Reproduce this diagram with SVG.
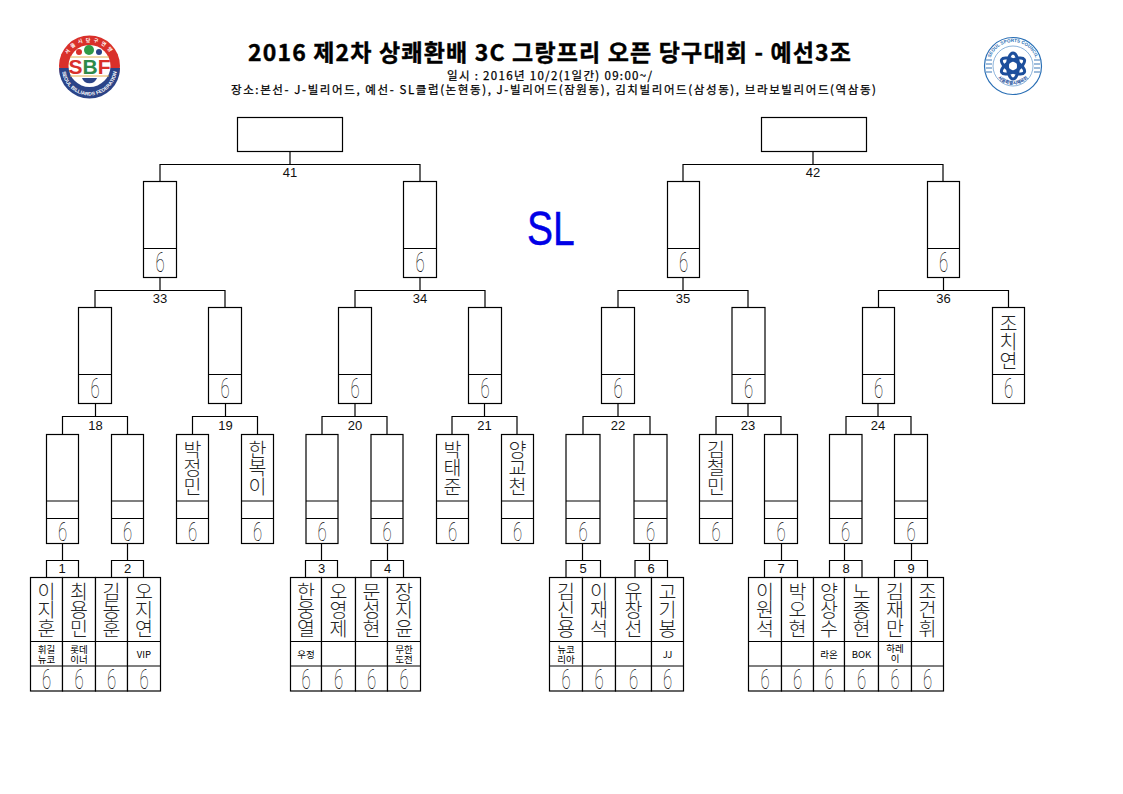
<svg xmlns="http://www.w3.org/2000/svg" width="1123" height="794" viewBox="0 0 1123 794">
<style>
.b{fill:#fff;stroke:#000;stroke-width:1.2}
.c{fill:none;stroke:#000;stroke-width:1.2}
.n{font-family:"Noto Sans CJK KR","Liberation Sans",sans-serif;font-size:19.500px;fill:#222;font-weight:300;writing-mode:vertical-rl;text-orientation:upright;letter-spacing:-1px}
.a{font-family:"Noto Sans CJK KR","Liberation Sans",sans-serif;font-size:9.500px;text-anchor:middle;fill:#000}
.s{font-family:Roboto,"Liberation Sans",sans-serif;font-size:14px;font-weight:100;text-anchor:middle;fill:#000}
.m{font-family:"Liberation Sans",sans-serif;font-size:13px;text-anchor:middle;fill:#111}
.t{font-family:"Noto Sans CJK KR","Liberation Sans",sans-serif;fill:#000}
.t1{font-size:23px;font-weight:700;stroke:#000;stroke-width:.4}
.t2{font-size:11.500px;font-weight:400;stroke:#000;stroke-width:.25}
.lw{font-family:"Liberation Sans","Noto Sans CJK KR",sans-serif;font-size:5px;font-weight:700;fill:#fff}
.lb{font-family:"Liberation Sans","Noto Sans CJK KR",sans-serif;font-size:4.600px;font-weight:700;fill:#2a6fb5}
</style>
<defs>
<path id="arcTopL" d="M65 66A24.500 24.500 0 0 1 114 66"/>
<path id="arcBotL" d="M62 68A27.500 27.500 0 0 0 117 68"/>
<path id="arcTopR" d="M989 66A24 24 0 0 1 1037 66"/>
<path id="arcBotR" d="M993 70A21 21 0 0 0 1033 70"/>
</defs>
<rect width="1123" height="794" fill="#fff"/>
<g id="title">
<text class="t t1" x="248" y="61" textLength="603" lengthAdjust="spacing">2016 제2차 상쾌환배 3C 그랑프리 오픈 당구대회 - 예선3조</text>
<text class="t t2" x="447" y="80" textLength="205">일시 : 2016년 10/2(1일간) 09:00~/</text>
<text class="t t2" x="231" y="94" textLength="645">장소:본선- J-빌리어드, 예선- SL클럽(논현동), J-빌리어드(잠원동), 김치빌리어드(삼성동), 브라보빌리어드(역삼동)</text>
</g>
<g id="logo-left">
<circle cx="89.500" cy="66" r="30.500" fill="#d9302a"/>
<path d="M59 68A30.500 30.500 0 0 0 120 68Z" fill="#2b4488"/>
<circle cx="89.500" cy="66" r="21" fill="#fff"/>
<path d="M70 57H109M70 76H109" stroke="#e0b050" stroke-width="1"/>
<circle cx="89" cy="50" r="5" fill="#2f9a46"/><circle cx="79" cy="52" r="3" fill="#d9302a"/><circle cx="99" cy="52" r="3" fill="#2b4488"/>
<path d="M82 78H97A8 8 0 0 1 82 78Z" fill="#2b4488"/>
<text x="89.500" y="74" font-family="Liberation Sans,sans-serif" font-weight="700" font-size="21" text-anchor="middle"><tspan fill="#d9302a">S</tspan><tspan fill="#2f8a4a">B</tspan><tspan fill="#d9302a">F</tspan></text>
<text class="lw"><textPath href="#arcTopL" startOffset="50%" text-anchor="middle" letter-spacing="3">서울시당구연맹</textPath></text>
<text class="lw" font-size="4.500"><textPath href="#arcBotL" startOffset="50%" text-anchor="middle">SEOUL BILLIARDS FEDERATION</textPath></text>
</g>
<g id="logo-right">
<circle cx="1013" cy="66" r="28.500" fill="#fff" stroke="#2a6fb5" stroke-width="1.200"/>
<circle cx="1013" cy="66" r="20" fill="#fff" stroke="#6f9fd0" stroke-width=".8"/>
<path d="M986 60H992M986 64H992M986 68H992M986 72H992M1034 60H1040M1034 64H1040M1034 68H1040M1034 72H1040" stroke="#7fa6cf" stroke-width="1.500"/>
<g fill="none" stroke="#1d4f9c" stroke-width="3"><ellipse cx="1013" cy="66" rx="5.500" ry="13"/><ellipse cx="1013" cy="66" rx="5.500" ry="13" transform="rotate(60 1013 66)"/><ellipse cx="1013" cy="66" rx="5.500" ry="13" transform="rotate(120 1013 66)"/></g>
<text class="lb"><textPath href="#arcTopR" startOffset="50%" text-anchor="middle">SEOUL SPORTS COUNCIL</textPath></text>
<text class="lb" style="fill:#1d4f9c"><textPath href="#arcBotR" startOffset="50%" text-anchor="middle">서울특별시체육회</textPath></text>
</g>
<text id="sl" transform="translate(527 245) scale(1 1.22)" font-family="Liberation Sans,sans-serif" font-size="39" fill="#0000e6" stroke="#0000e6" stroke-width=".4">SL</text>
<g id="connectors">
<path class="c" d="M290 151V164.500M160 181V164.500H420V181M813 151V164.500M683 181V164.500H943V181M160 277V290.500M95 307V290.500H225V307M420 277V290.500M355 307V290.500H485V307M683 277V290.500M618 307V290.500H748V307M943.500 277V290.500M878.500 307V290.500H1008.500V307M95.500 403V416.500M62.500 434V416.500H127.500V434M225.500 403V416.500M192.500 434V416.500H257.500V434M355 403V416.500M322 434V416.500H387V434M484.500 403V416.500M452 434V416.500H517V434M618 403V416.500M583 434V416.500H650V434M748 403V416.500M716 434V416.500H781V434M878 403V416.500M846 434V416.500H911V434"/>
<path class="c" d="M62.500 544V560.500M46.500 577V560.500H78.500V577M127.500 544V560.500M111.500 577V560.500H143.500V577M321.500 544V560.500M305.500 577V560.500H337.500V577M387.500 544V560.500M371 577V560.500H403.500V577M582.500 544V560.500M566 577V560.500H600.500V577M649.500 544V560.500M635 577V560.500H667.500V577M781.500 544V560.500M764.500 577V560.500H797.500V577M844.500 544V560.500M829.500 577V560.500H862V577M911.500 544V560.500M894.500 577V560.500H927.500V577"/>
</g>
<g id="match-labels">
<text class="m" x="290" y="177">41</text><text class="m" x="813" y="177">42</text>
<text class="m" x="160" y="303">33</text><text class="m" x="420" y="303">34</text><text class="m" x="683" y="303">35</text><text class="m" x="943.500" y="303">36</text>
<text class="m" x="95.500" y="430">18</text><text class="m" x="225.500" y="430">19</text><text class="m" x="355" y="430">20</text><text class="m" x="484.500" y="430">21</text><text class="m" x="618" y="430">22</text><text class="m" x="748" y="430">23</text><text class="m" x="878" y="430">24</text>
<text class="m" x="62" y="573">1</text><text class="m" x="127.500" y="573">2</text><text class="m" x="321.500" y="573">3</text><text class="m" x="387.500" y="573">4</text><text class="m" x="583" y="573">5</text><text class="m" x="651" y="573">6</text><text class="m" x="781" y="573">7</text><text class="m" x="846" y="573">8</text><text class="m" x="911" y="573">9</text>
</g>
<g id="final-left"><rect class="b" x="237.500" y="117.500" width="105" height="34"/></g>
<g id="final-right"><rect class="b" x="761.500" y="117.500" width="105" height="34"/></g>

<g id="sf1" transform="translate(143.500 181.500)"><rect class="b" width="33" height="96"/><path class="c" d="M0 67H33"/><text class="s" transform="translate(16.500 90.500) scale(1.2 2)">6</text></g>
<g id="sf2" transform="translate(403.500 181.500)"><rect class="b" width="33" height="96"/><path class="c" d="M0 67H33"/><text class="s" transform="translate(16.500 90.500) scale(1.2 2)">6</text></g>
<g id="sf3" transform="translate(667.500 181.500)"><rect class="b" width="32" height="96"/><path class="c" d="M0 67H32"/><text class="s" transform="translate(16 90.500) scale(1.2 2)">6</text></g>
<g id="sf4" transform="translate(927.500 181.500)"><rect class="b" width="32" height="96"/><path class="c" d="M0 67H32"/><text class="s" transform="translate(16 90.500) scale(1.2 2)">6</text></g>

<g id="q1" transform="translate(78.500 307.500)"><rect class="b" width="33" height="96"/><path class="c" d="M0 67H33"/><text class="s" transform="translate(16.500 90.500) scale(1.2 2)">6</text></g>
<g id="q2" transform="translate(208.500 307.500)"><rect class="b" width="33" height="96"/><path class="c" d="M0 67H33"/><text class="s" transform="translate(16.500 90.500) scale(1.2 2)">6</text></g>
<g id="q3" transform="translate(338.500 307.500)"><rect class="b" width="33" height="96"/><path class="c" d="M0 67H33"/><text class="s" transform="translate(16.500 90.500) scale(1.2 2)">6</text></g>
<g id="q4" transform="translate(468.500 307.500)"><rect class="b" width="33" height="96"/><path class="c" d="M0 67H33"/><text class="s" transform="translate(16.500 90.500) scale(1.2 2)">6</text></g>
<g id="q5" transform="translate(601.500 307.500)"><rect class="b" width="33" height="96"/><path class="c" d="M0 67H33"/><text class="s" transform="translate(16.500 90.500) scale(1.2 2)">6</text></g>
<g id="q6" transform="translate(732 307.500)"><rect class="b" width="33" height="96"/><path class="c" d="M0 67H33"/><text class="s" transform="translate(16.500 90.500) scale(1.2 2)">6</text></g>
<g id="q7" transform="translate(862.500 307.500)"><rect class="b" width="32" height="96"/><path class="c" d="M0 67H32"/><text class="s" transform="translate(16 90.500) scale(1.2 2)">6</text></g>
<g id="q8" transform="translate(992.500 307.500)"><rect class="b" width="32" height="96"/><path class="c" d="M0 67H32"/><text class="n" x="16" y="6">조치연</text><text class="s" transform="translate(16 90.500) scale(1.2 2)">6</text></g>

<g id="r1" transform="translate(46.500 434.500)"><rect class="b" width="32" height="109"/><path class="c" d="M0 66.500H32M0 84H32"/><text class="s" transform="translate(16 106.500) scale(1.2 1.9)">6</text></g>
<g id="r2" transform="translate(111.500 434.500)"><rect class="b" width="32" height="109"/><path class="c" d="M0 66.500H32M0 84H32"/><text class="s" transform="translate(16 106.500) scale(1.2 1.9)">6</text></g>
<g id="r3" transform="translate(176.500 434.500)"><rect class="b" width="32" height="109"/><path class="c" d="M0 66.500H32M0 84H32"/><text class="n" x="16" y="5">박정민</text><text class="s" transform="translate(16 106.500) scale(1.2 1.9)">6</text></g>
<g id="r4" transform="translate(241.500 434.500)"><rect class="b" width="32" height="109"/><path class="c" d="M0 66.500H32M0 84H32"/><text class="n" x="16" y="5">한복이</text><text class="s" transform="translate(16 106.500) scale(1.2 1.9)">6</text></g>
<g id="r5" transform="translate(306 434.500)"><rect class="b" width="32" height="109"/><path class="c" d="M0 66.500H32M0 84H32"/><text class="s" transform="translate(16 106.500) scale(1.2 1.9)">6</text></g>
<g id="r6" transform="translate(371 434.500)"><rect class="b" width="32" height="109"/><path class="c" d="M0 66.500H32M0 84H32"/><text class="s" transform="translate(16 106.500) scale(1.2 1.9)">6</text></g>
<g id="r7" transform="translate(436.500 434.500)"><rect class="b" width="32" height="109"/><path class="c" d="M0 66.500H32M0 84H32"/><text class="n" x="16" y="5">박태준</text><text class="s" transform="translate(16 106.500) scale(1.2 1.9)">6</text></g>
<g id="r8" transform="translate(501.500 434.500)"><rect class="b" width="32" height="109"/><path class="c" d="M0 66.500H32M0 84H32"/><text class="n" x="16" y="5">양교천</text><text class="s" transform="translate(16 106.500) scale(1.2 1.9)">6</text></g>
<g id="r9" transform="translate(566 434.500)"><rect class="b" width="34" height="109"/><path class="c" d="M0 66.500H34M0 84H34"/><text class="s" transform="translate(17 106.500) scale(1.2 1.9)">6</text></g>
<g id="r10" transform="translate(634 434.500)"><rect class="b" width="33" height="109"/><path class="c" d="M0 66.500H33M0 84H33"/><text class="s" transform="translate(16.500 106.500) scale(1.2 1.9)">6</text></g>
<g id="r11" transform="translate(699.500 434.500)"><rect class="b" width="33" height="109"/><path class="c" d="M0 66.500H33M0 84H33"/><text class="n" x="16.500" y="5">김철민</text><text class="s" transform="translate(16.500 106.500) scale(1.2 1.9)">6</text></g>
<g id="r12" transform="translate(764.500 434.500)"><rect class="b" width="33" height="109"/><path class="c" d="M0 66.500H33M0 84H33"/><text class="s" transform="translate(16.500 106.500) scale(1.2 1.9)">6</text></g>
<g id="r13" transform="translate(829.500 434.500)"><rect class="b" width="32.500" height="109"/><path class="c" d="M0 66.500H32.500M0 84H32.500"/><text class="s" transform="translate(16 106.500) scale(1.2 1.9)">6</text></g>
<g id="r14" transform="translate(894.500 434.500)"><rect class="b" width="33" height="109"/><path class="c" d="M0 66.500H33M0 84H33"/><text class="s" transform="translate(16.500 106.500) scale(1.2 1.9)">6</text></g>

<g id="p1" transform="translate(30.500 577.500)"><rect class="b" width="32" height="113.500"/><path class="c" d="M0 64H32M0 88.500H32"/><text class="n" x="16" y="4">이지훈</text><text class="a" x="16" y="75">휘길<tspan x="16" dy="10">뉴코</tspan></text><text class="s" transform="translate(16 111) scale(1.2 2)">6</text></g>
<g id="p2" transform="translate(62.500 577.500)"><rect class="b" width="33" height="113.500"/><path class="c" d="M0 64H33M0 88.500H33"/><text class="n" x="16.500" y="4">최용민</text><text class="a" x="16.500" y="75">롯데<tspan x="16.500" dy="10">이너</tspan></text><text class="s" transform="translate(16.500 111) scale(1.2 2)">6</text></g>
<g id="p3" transform="translate(95.500 577.500)"><rect class="b" width="32" height="113.500"/><path class="c" d="M0 64H32M0 88.500H32"/><text class="n" x="16" y="4">김동훈</text><text class="s" transform="translate(16 111) scale(1.2 2)">6</text></g>
<g id="p4" transform="translate(127.500 577.500)"><rect class="b" width="33" height="113.500"/><path class="c" d="M0 64H33M0 88.500H33"/><text class="n" x="16.500" y="4">오지연</text><text class="a" x="16.500" y="80">VIP</text><text class="s" transform="translate(16.500 111) scale(1.2 2)">6</text></g>

<g id="p5" transform="translate(290.500 577.500)"><rect class="b" width="31" height="113.500"/><path class="c" d="M0 64H31M0 88.500H31"/><text class="n" x="15.500" y="4">한웅열</text><text class="a" x="15.500" y="80">우정</text><text class="s" transform="translate(15.500 111) scale(1.2 2)">6</text></g>
<g id="p6" transform="translate(321.500 577.500)"><rect class="b" width="34" height="113.500"/><path class="c" d="M0 64H34M0 88.500H34"/><text class="n" x="17" y="4">오영제</text><text class="s" transform="translate(17 111) scale(1.2 2)">6</text></g>
<g id="p7" transform="translate(355.500 577.500)"><rect class="b" width="32" height="113.500"/><path class="c" d="M0 64H32M0 88.500H32"/><text class="n" x="16" y="4">문성현</text><text class="s" transform="translate(16 111) scale(1.2 2)">6</text></g>
<g id="p8" transform="translate(387.500 577.500)"><rect class="b" width="33" height="113.500"/><path class="c" d="M0 64H33M0 88.500H33"/><text class="n" x="16.500" y="4">장지윤</text><text class="a" x="16.500" y="75">무한<tspan x="16.500" dy="10">도전</tspan></text><text class="s" transform="translate(16.500 111) scale(1.2 2)">6</text></g>

<g id="p9" transform="translate(549.500 577.500)"><rect class="b" width="33" height="113.500"/><path class="c" d="M0 64H33M0 88.500H33"/><text class="n" x="16.500" y="4">김신용</text><text class="a" x="16.500" y="75">뉴코<tspan x="16.500" dy="10">리아</tspan></text><text class="s" transform="translate(16.500 111) scale(1.2 2)">6</text></g>
<g id="p10" transform="translate(582.500 577.500)"><rect class="b" width="33" height="113.500"/><path class="c" d="M0 64H33M0 88.500H33"/><text class="n" x="16.500" y="4">이재석</text><text class="s" transform="translate(16.500 111) scale(1.2 2)">6</text></g>
<g id="p11" transform="translate(615.500 577.500)"><rect class="b" width="36" height="113.500"/><path class="c" d="M0 64H36M0 88.500H36"/><text class="n" x="18" y="4">유창선</text><text class="s" transform="translate(18 111) scale(1.2 2)">6</text></g>
<g id="p12" transform="translate(651.500 577.500)"><rect class="b" width="32" height="113.500"/><path class="c" d="M0 64H32M0 88.500H32"/><text class="n" x="16" y="4">고기봉</text><text class="a" x="16" y="80">JJ</text><text class="s" transform="translate(16 111) scale(1.2 2)">6</text></g>

<g id="p13" transform="translate(748.500 577.500)"><rect class="b" width="33" height="113.500"/><path class="c" d="M0 64H33M0 88.500H33"/><text class="n" x="16.500" y="4">이원석</text><text class="s" transform="translate(16.500 111) scale(1.2 2)">6</text></g>
<g id="p14" transform="translate(781.500 577.500)"><rect class="b" width="32" height="113.500"/><path class="c" d="M0 64H32M0 88.500H32"/><text class="n" x="16" y="4">박오현</text><text class="s" transform="translate(16 111) scale(1.2 2)">6</text></g>
<g id="p15" transform="translate(813.500 577.500)"><rect class="b" width="31" height="113.500"/><path class="c" d="M0 64H31M0 88.500H31"/><text class="n" x="15.500" y="4">양상수</text><text class="a" x="15.500" y="80">라온</text><text class="s" transform="translate(15.500 111) scale(1.2 2)">6</text></g>
<g id="p16" transform="translate(844.500 577.500)"><rect class="b" width="34" height="113.500"/><path class="c" d="M0 64H34M0 88.500H34"/><text class="n" x="17" y="4">노종현</text><text class="a" x="17" y="80">BOK</text><text class="s" transform="translate(17 111) scale(1.2 2)">6</text></g>
<g id="p17" transform="translate(878.500 577.500)"><rect class="b" width="33" height="113.500"/><path class="c" d="M0 64H33M0 88.500H33"/><text class="n" x="16.500" y="4">김재만</text><text class="a" x="16.500" y="74">하레<tspan x="16.500" dy="10">이</tspan></text><text class="s" transform="translate(16.500 111) scale(1.2 2)">6</text></g>
<g id="p18" transform="translate(911.500 577.500)"><rect class="b" width="32" height="113.500"/><path class="c" d="M0 64H32M0 88.500H32"/><text class="n" x="16" y="4">조건휘</text><text class="s" transform="translate(16 111) scale(1.2 2)">6</text></g>
</svg>
